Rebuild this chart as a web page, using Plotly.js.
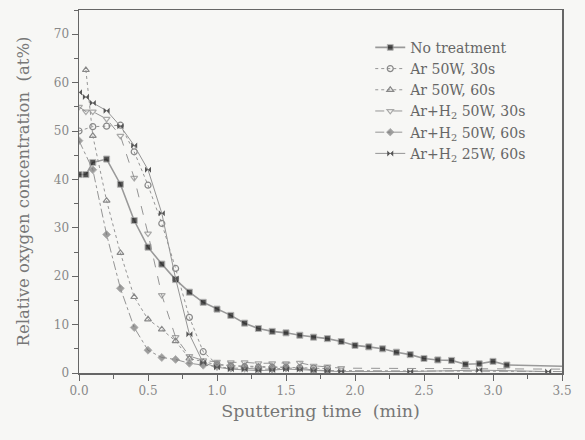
<!DOCTYPE html>
<html>
<head>
<meta charset="utf-8">
<script src="https://cdn.plot.ly/plotly-3.0.1.min.js"></script>
<style>html,body{margin:0;padding:0;background:#f7f7f5;}</style>
</head>
<body>
<div id="chart" style="width:585px;height:440px;"></div>
<script>
// Sputtering time (min) and relative oxygen concentration (at%)
const noTreatX = [0,0.05,0.1,0.2,0.3,0.4,0.5,0.6,0.7,0.8,0.9,1.0,1.1,1.2,1.3,1.4,1.5,1.6,1.7,1.8,1.9,2.0,2.1,2.2,2.3,2.4,2.5,2.6,2.7,2.8,2.9,3.0,3.1,3.5];
const noTreatY = [41,41,43.5,44.2,39,31.5,26,22.5,19.3,16.7,14.6,13.2,11.9,10.3,9.2,8.6,8.3,7.8,7.4,7.1,6.5,5.7,5.4,5.0,4.3,3.8,3.0,2.7,2.6,1.8,1.9,2.4,1.65,1.4];

const ar30X = [0,0.1,0.2,0.3,0.4,0.5,0.6,0.7,0.8,0.9,1.0,1.1,1.2,1.3,1.4,1.5,1.6,1.7,1.8];
const ar30Y = [50,50.9,51,51.2,45.7,38.8,30.9,21.6,11.5,4.4,1.8,1.5,1.3,1.2,1.2,1.2,1.1,1.0,0.9];

const ar60X = [0.05,0.1,0.2,0.3,0.4,0.5,0.6,0.7,0.8,0.9,1.0,1.1,1.2,1.3,1.4,1.5];
const ar60Y = [62.6,49,35.6,24.8,15.7,11.1,9.0,6.6,3.0,2.3,1.7,1.5,1.4,1.3,1.2,1.2];

const arh30X = [0,0.05,0.1,0.2,0.3,0.4,0.5,0.6,0.7,0.8,0.9,1.0,1.1,1.2,1.3,1.4,1.5,1.6,1.7,1.8,1.9,3.5];
const arh30Y = [55,54,54,52.5,49,40.3,28.8,16.1,7.4,3.5,2.6,2.3,2.2,2.2,2.0,2.0,2.0,2.1,1.5,1.3,1.0,0.8];

const arh60X = [0,0.1,0.2,0.3,0.4,0.5,0.6,0.7,0.8,0.9,1.0,1.1,1.2,1.3,1.4,1.5,1.6,1.7,1.8,3.5];
const arh60Y = [48,42,28.6,17.5,9.4,4.7,3.2,2.8,2.0,1.6,1.3,1.0,1.0,0.8,0.8,1.0,1.0,0.6,0.5,0.3];

const arh25X = [0,0.05,0.1,0.2,0.3,0.4,0.5,0.6,0.7,0.8,0.9,1.0,1.1,1.2,1.3,1.4,1.5,1.6,1.7,1.8,1.9,2.4,2.9,3.4];
const arh25Y = [58,57,55.8,54.2,51,47,42,33,19.5,8,2.1,1.2,0.8,0.7,0.5,0.6,0.8,0.7,0.5,0.4,0.3,0.3,0.6,0.3];

const seriesNames = ["No treatment","Ar 50W, 30s","Ar 50W, 60s","Ar+H<sub>2</sub> 50W, 30s","Ar+H<sub>2</sub> 50W, 60s","Ar+H<sub>2</sub> 25W, 60s"];
const xTickVals = [0,0.5,1,1.5,2,2.5,3,3.5];
const yTickVals = [0,10,20,30,40,50,60,70];

const lineCol = '#959595';
function sizes(xs, cut){ return xs.map(v => v > cut ? 0 : 6); }

const traces = [
  {x: noTreatX, y: noTreatY, name: seriesNames[0], mode:'lines+markers',
   line:{color:'#999', width:1.6, dash:'solid'},
   marker:{symbol:'square', color:'#111', size:sizes(noTreatX,3.2)}},
  {x: ar30X, y: ar30Y, name: seriesNames[1], mode:'lines+markers',
   line:{color:lineCol, width:1, dash:'dot'},
   marker:{symbol:'circle-open', color:'#888', size:6, line:{width:1.2}}},
  {x: ar60X, y: ar60Y, name: seriesNames[2], mode:'lines+markers',
   line:{color:lineCol, width:1, dash:'dot'},
   marker:{symbol:'triangle-up-open', color:'#888', size:6, line:{width:1.2}}},
  {x: arh30X, y: arh30Y, name: seriesNames[3], mode:'lines+markers',
   line:{color:lineCol, width:1, dash:'dash'},
   marker:{symbol:'triangle-down-open', color:'#888', size:sizes(arh30X,3.2), line:{width:1.2}}},
  {x: arh60X, y: arh60Y, name: seriesNames[4], mode:'lines+markers',
   line:{color:lineCol, width:1, dash:'dashdot'},
   marker:{symbol:'diamond', color:'#777', size:sizes(arh60X,3.2)}},
  {x: arh25X, y: arh25Y, name: seriesNames[5], mode:'lines+markers',
   line:{color:lineCol, width:1, dash:'solid'},
   marker:{symbol:'bowtie', color:'#555', size:6}}
];

const font = 'DejaVu Serif, Liberation Serif, serif';
const layout = {
  width:585, height:440,
  margin:{l:79, r:23, t:10, b:67},
  paper_bgcolor:'#f7f7f5', plot_bgcolor:'#f7f7f5',
  font:{family:font, color:'#777', size:12},
  showlegend:true,
  legend:{x:0.603, y:0.94, xanchor:'left', yanchor:'top', bgcolor:'rgba(0,0,0,0)',
          font:{family:font, size:14, color:'#666'}, tracegroupgap:0},
  xaxis:{range:[0,3.5], tickvals:xTickVals, ticktext:xTickVals.map(v=>v.toFixed(1)),
         ticks:'outside', ticklen:6, tickwidth:1, tickcolor:'#666',
         showline:true, linecolor:'#666', linewidth:1.5, mirror:true,
         showgrid:false, zeroline:false,
         minor:{dtick:0.25, ticks:'outside', ticklen:4, tickcolor:'#666'},
         tickfont:{family:font, size:12, color:'#888'},
         title:{text:'Sputtering time  (min)', font:{family:font, size:17.5, color:'#777'}, standoff:8}},
  yaxis:{range:[0,75], tickvals:yTickVals,
         ticks:'outside', ticklen:6, tickwidth:1, tickcolor:'#666',
         showline:true, linecolor:'#666', linewidth:1.5, mirror:true,
         showgrid:false, zeroline:false,
         minor:{dtick:5, ticks:'outside', ticklen:4, tickcolor:'#666'},
         tickfont:{family:font, size:12, color:'#888'},
         title:{text:'Relative oxygen concentration  (at%)', font:{family:font, size:16.5, color:'#777'}, standoff:20}}
};

Plotly.newPlot('chart', traces, layout, {displayModeBar:false, staticPlot:true});
</script>
</body>
</html>
